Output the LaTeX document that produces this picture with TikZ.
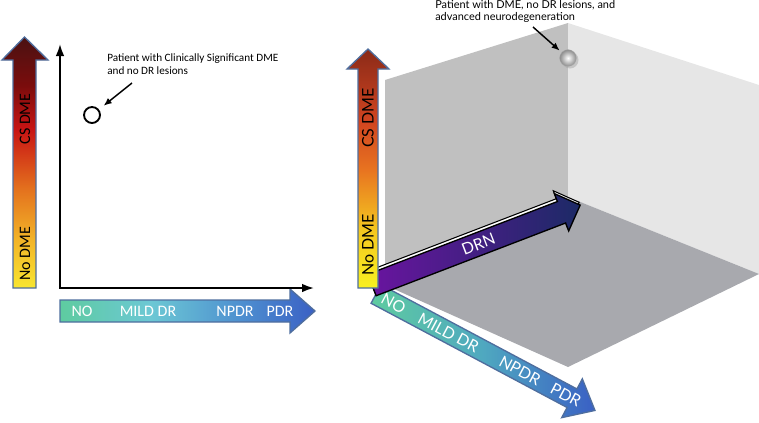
\documentclass[tikz,border=0pt]{standalone}
\usepackage{fontspec}
\setmainfont{Carlito}
\newfontfamily\latofont{Lato}
\usetikzlibrary{arrows.meta,positioning,calc}

\definecolor{wallback}{HTML}{C0C0C0}
\definecolor{wallside}{HTML}{E6E6E6}
\definecolor{floorgrey}{HTML}{A8A9AE}
\definecolor{arrowedge}{HTML}{4F6E9E}
\definecolor{drnstart}{HTML}{6A14A0}
\definecolor{drnend}{HTML}{1C2A66}
% DME scale colours
\definecolor{dmeY}{HTML}{F8E630}
\definecolor{dmeYO}{HTML}{F2B428}
\definecolor{dmeO}{HTML}{E4731E}
\definecolor{dmeR}{HTML}{C81414}
\definecolor{dmeDR}{HTML}{7A0C0C}
\definecolor{dmeTop}{HTML}{4A1212}
\definecolor{dmeYb}{HTML}{F8F020}
\definecolor{dmeYOb}{HTML}{F4C820}
\definecolor{dmeOb}{HTML}{E87420}
\definecolor{dmeRb}{HTML}{D04420}
\definecolor{dmeTopb}{HTML}{8A2A18}
% DR scale colours
\definecolor{drG}{HTML}{5ECBA0}
\definecolor{drC}{HTML}{6CC8D4}
\definecolor{drM}{HTML}{4E90D0}
\definecolor{drB}{HTML}{3A60C4}
\definecolor{drMb}{HTML}{4FA8C0}

% path box is mapped onto 25bp..75bp
\pgfdeclareverticalshading{dmeleft}{100bp}{color(0bp)=(dmeY); color(25bp)=(dmeY);
  color(34.6bp)=(dmeYO); color(44.5bp)=(dmeO); color(56.5bp)=(dmeR);
  color(65.4bp)=(dmeDR); color(75bp)=(dmeTop); color(100bp)=(dmeTop)}
\pgfdeclareverticalshading{dmeright}{100bp}{color(0bp)=(dmeYb); color(25bp)=(dmeYb);
  color(37bp)=(dmeYOb); color(49.7bp)=(dmeOb); color(60bp)=(dmeRb);
  color(75bp)=(dmeTopb); color(100bp)=(dmeTopb)}
\pgfdeclarehorizontalshading{drleft}{100bp}{color(0bp)=(drG); color(25bp)=(drG);
  color(42.6bp)=(drC); color(60.3bp)=(drM); color(75bp)=(drB); color(100bp)=(drB)}
\pgfdeclarehorizontalshading{drright}{100bp}{color(0bp)=(drG); color(25bp)=(drG);
  color(50bp)=(drMb); color(75bp)=(drB); color(100bp)=(drB)}

\begin{document}
\begin{tikzpicture}[x=0.75pt,y=-0.75pt,
  lbl/.style={font=\fontsize{12}{14}\selectfont, inner sep=0pt},
  rlbl/.style={font=\latofont\fontsize{12}{14}\selectfont, inner sep=0pt},
  callout/.style={line width=1.1pt, -{Latex[length=6pt,width=5pt]}, shorten >=2pt}]
\useasboundingbox (0,0) rectangle (759,422);
\clip (0,0) rectangle (759,422);
%%% left panel
% DME scale
\shade[shading=dmeleft, draw=arrowedge, line width=1pt]
  (13,288) -- (13,60) -- (2,60) -- (24.5,37) -- (48,60) -- (36,60) -- (36,288) -- cycle;
\node[lbl, rotate=90] (csL) at (25,119) {CS DME};
\node[lbl, rotate=90] (noL) at (25,254) {No DME};
% DR scale
\shade[shading=drleft, draw=arrowedge, line width=1pt]
  (60,300) -- (290,300) -- (290,289) -- (315,311) -- (290,333) -- (290,322) -- (60,322) -- cycle;
\foreach \x/\t/\n in {82/NO/no,148/MILD DR/mild,235/NPDR/npdr,280/PDR/pdr}
  \node[lbl, text=white] (dr\n) at (\x,311) {\t};
% axes
\coordinate (orig) at (60,288);
\coordinate (ytip) at (60,44);
\coordinate (xtip) at (314,288);
\draw[line width=1.5pt, {Latex[length=9pt,width=6.5pt]}-{Latex[length=9pt,width=6.5pt]}]
  (ytip) -- (orig) -- (xtip);
% patient 1
\node[circle, draw, line width=1.4pt, minimum size=12pt, inner sep=0pt] (csdme) at (92,115) {};
\node[anchor=north west, align=left, inner sep=0pt, font=\fontsize{8.4}{10}\selectfont]
  (csnote) at (107,53) {Patient with Clinically Significant DME\\and no DR lesions};
\coordinate (csfrom) at (132,83);
\draw[callout, shorten >=4.5pt] (csfrom) -- (csdme);

%%% right panel
% box
\fill[wallback] (385,80) -- (568,23) -- (568,197) -- (385,285) -- cycle;
\fill[wallside] (568,23) -- (759,85) -- (759,274) -- (568,197) -- cycle;
\fill[floorgrey] (385,285) -- (568,197) -- (759,274) -- (568,367) -- cycle;
% DR axis
\begin{scope}[shift={(376,294)}, rotate=-28]
  \shade[shading=drright, draw=arrowedge, line width=1pt]
    (0,-10.5) -- (222,-10.5) -- (222,-22) -- (248,0) -- (222,22) -- (222,10.5) -- (0,10.5) -- cycle;
  \foreach \t/\s/\n in {20/NO/no,82/MILD DR/mild,163/NPDR/npdr,215/PDR/pdr}
    \node[rlbl, text=white, rotate=-28] (pdr\n) at (\t,0) {\s};
\end{scope}
% DRN axis
\begin{scope}[shift={(372,285)}, rotate=21]
  \filldraw[shift={(0,-3)}, fill=white, draw=black, line width=0.8pt]
    (0,-11.5) -- (203,-11.5) -- (203,-20) -- (223,0) -- (203,20) -- (203,11.5) -- (0,11.5) -- cycle;
  \shade[left color=drnstart, right color=drnend, draw=black, line width=1pt]
    (0,-11.5) -- (203,-11.5) -- (203,-20) -- (223,0) -- (203,20) -- (203,11.5) -- (0,11.5) -- cycle;
  \node[rlbl, text=white, rotate=21] (drn) at (114,0) {DRN};
\end{scope}
% DME axis
\shade[shading=dmeright, draw=arrowedge, line width=1pt]
  (358,288) -- (358,69) -- (347,69) -- (368,49) -- (389,69) -- (378,69) -- (378,288) -- cycle;
\node[rlbl, rotate=90] (csR) at (368,118) {CS DME};
\node[rlbl, rotate=90] (noR) at (368,245) {No DME};
% patient 2
\fill[gray!70, opacity=0.5] (570,60) circle (8.5);
\node[circle, inner color=white, outer color=gray!90, draw=gray!70, line width=0.3pt,
  minimum size=12.5pt, inner sep=0pt] (dmeball) at (568,58) {};
\node[anchor=north west, align=left, inner sep=0pt, font=\latofont\fontsize{8.2}{8.4}\selectfont]
  (ballnote) at (435,0.5) {Patient with DME, no DR lesions, and\\advanced neurodegeneration};
\coordinate (ballfrom) at (533,27);
\draw[callout] (ballfrom) -- (dmeball);
\end{tikzpicture}
\end{document}
